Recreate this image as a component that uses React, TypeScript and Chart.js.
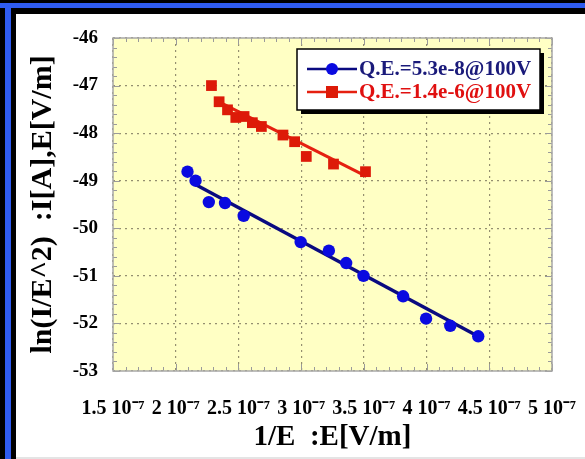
import { useEffect, useRef } from "react";
import { Chart, registerables } from "chart.js";

Chart.register(...registerables);

// x values are in units of 1e-7 (1/E), y values are ln(I/E^2)
const blueX = [2.094, 2.158, 2.264, 2.393, 2.542, 2.996, 3.221, 3.359, 3.497, 3.813, 3.996, 4.189, 4.412];
const blueY = [-48.81, -49.0, -49.45, -49.47, -49.74, -50.29, -50.47, -50.73, -51.0, -51.43, -51.9, -52.05, -52.27];
const redX = [2.285, 2.346, 2.413, 2.479, 2.545, 2.611, 2.683, 2.855, 2.948, 3.041, 3.258, 3.513];
const redY = [-47.0, -47.34, -47.51, -47.67, -47.65, -47.78, -47.86, -48.04, -48.18, -48.49, -48.65, -48.81];
const blueFitX = [2.15, 4.41];
const blueFitY = [-49.07, -52.27];
const redFitX = [2.33, 3.52];
const redFitY = [-47.32, -48.91];
const xTickValues = [1.5, 2, 2.5, 3, 3.5, 4, 4.5, 5];
const yTickValues = [-46, -47, -48, -49, -50, -51, -52, -53];
const legendLabels = ["Q.E.=5.3e-8@100V", "Q.E.=1.4e-6@100V"];
const xTitle = "1/E  :E[V/m]";
const yTitle = "ln(I/E^2)  :I[A],E[V/m]";

const BLUE_PT = "#0a0ae0";
const BLUE_LINE = "#0a0a80";
const RED_PT = "#dd1a08";
const RED_LINE = "#e52010";
const SERIF = "'Liberation Serif', 'Times New Roman', serif";

const toPts = (xs: number[], ys: number[]) => xs.map((x, i) => ({ x, y: ys[i] }));

const framePlugin = {
  id: "framePlugin",
  beforeDraw(chart: any) {
    const { ctx, width, height, chartArea } = chart;
    ctx.save();
    ctx.fillStyle = "#000";
    ctx.fillRect(0, 0, width, height);
    ctx.fillStyle = "#2f5cf0";
    ctx.fillRect(0, 3, width, 5);
    ctx.fillRect(5, 3, 6, height);
    ctx.fillStyle = "#ffffff";
    ctx.fillRect(16, 14, width - 16, height - 16);
    ctx.fillStyle = "#e4e4e4";
    ctx.fillRect(16, height - 2, width - 16, 2);
    ctx.fillStyle = "#ffffc4";
    ctx.fillRect(chartArea.left, chartArea.top, chartArea.right - chartArea.left, chartArea.bottom - chartArea.top);
    ctx.restore();
  },
  beforeDatasetsDraw(chart: any) {
    const { ctx, chartArea, scales } = chart;
    const xs = scales.x;
    const ys = scales.y;
    const { left, right, top, bottom } = chartArea;
    ctx.save();
    ctx.strokeStyle = "#9a9a9a";
    ctx.lineWidth = 1;
    ctx.beginPath();
    for (let i = 0; i <= 35; i++) {
      const v = 1.5 + i * 0.1;
      const px = Math.round(xs.getPixelForValue(v)) + 0.5;
      const len = i % 5 === 0 ? 7 : 4;
      ctx.moveTo(px, bottom);
      ctx.lineTo(px, bottom - len);
      ctx.moveTo(px, top);
      ctx.lineTo(px, top + len);
    }
    for (let i = 0; i <= 35; i++) {
      const v = -53 + i * 0.2;
      const py = Math.round(ys.getPixelForValue(v)) + 0.5;
      const len = i % 5 === 0 ? 7 : 4;
      ctx.moveTo(left, py);
      ctx.lineTo(left + len, py);
      ctx.moveTo(right, py);
      ctx.lineTo(right - len, py);
    }
    ctx.stroke();
    ctx.strokeStyle = "#a8a8a8";
    ctx.lineWidth = 1.5;
    ctx.strokeRect(left, top, right - left, bottom - top);
    ctx.restore();
  },
  afterDraw(chart: any) {
    const { ctx, chartArea } = chart;
    const bx = chartArea.left + 184;
    const by = chartArea.top + 11;
    const bw = 243;
    const bh = 61;
    ctx.save();
    ctx.fillStyle = "#000";
    ctx.fillRect(bx + 4, by + 4, bw, bh);
    ctx.fillStyle = "#fff";
    ctx.fillRect(bx, by, bw, bh);
    ctx.strokeStyle = "#000";
    ctx.lineWidth = 1.5;
    ctx.strokeRect(bx, by, bw, bh);
    const rows = [
      { y: by + 20, line: BLUE_LINE, pt: BLUE_PT, text: "#1a1a7a", shape: "circle" },
      { y: by + 43, line: RED_LINE, pt: RED_PT, text: "#e01010", shape: "rect" },
    ];
    ctx.font = `bold 21px ${SERIF}`;
    ctx.textBaseline = "middle";
    ctx.textAlign = "left";
    rows.forEach((r, i) => {
      ctx.strokeStyle = r.line;
      ctx.lineWidth = 2.5;
      ctx.beginPath();
      ctx.moveTo(bx + 10, r.y);
      ctx.lineTo(bx + 60, r.y);
      ctx.stroke();
      ctx.fillStyle = r.pt;
      if (r.shape === "circle") {
        ctx.beginPath();
        ctx.arc(bx + 35, r.y, 6, 0, Math.PI * 2);
        ctx.fill();
      } else {
        ctx.fillRect(bx + 29, r.y - 6, 12, 12);
      }
      ctx.fillStyle = r.text;
      ctx.fillText(legendLabels[i], bx + 62, r.y + 1);
    });
    ctx.restore();
  },
};

export default function App() {
  const ref = useRef<HTMLCanvasElement | null>(null);
  useEffect(() => {
    if (!ref.current) return;
    const chart = new Chart(ref.current, {
      type: "scatter",
      data: {
        datasets: [
          {
            label: legendLabels[0] + " fit",
            data: toPts(blueFitX, blueFitY),
            showLine: true,
            borderColor: BLUE_LINE,
            borderWidth: 3.5,
            pointRadius: 0,
            order: 3,
          },
          {
            label: legendLabels[1] + " fit",
            data: toPts(redFitX, redFitY),
            showLine: true,
            borderColor: RED_LINE,
            borderWidth: 3,
            pointRadius: 0,
            order: 4,
          },
          {
            label: legendLabels[0],
            data: toPts(blueX, blueY),
            showLine: false,
            pointStyle: "circle",
            pointRadius: 6.2,
            backgroundColor: BLUE_PT,
            borderColor: BLUE_PT,
            borderWidth: 0,
            order: 1,
          },
          {
            label: legendLabels[1],
            data: toPts(redX, redY),
            showLine: false,
            pointStyle: "rect",
            pointRadius: 7.6,
            backgroundColor: RED_PT,
            borderColor: RED_PT,
            borderWidth: 0,
            order: 2,
          },
        ],
      },
      options: {
        responsive: false,
        animation: false,
        layout: { padding: { left: 16, top: 38, right: 33, bottom: 0 } },
        plugins: { legend: { display: false }, tooltip: { enabled: false } },
        scales: {
          x: {
            type: "linear",
            min: 1.5,
            max: 5,
            afterBuildTicks: (scale: any) => {
              scale.ticks = xTickValues.map((v) => ({ value: v }));
            },
            afterFit: (scale: any) => {
              scale.height = 88;
              scale.paddingLeft = 0;
              scale.paddingRight = 0;
            },
            ticks: {
              color: "#000",
              padding: 26,
              maxRotation: 0,
              autoSkip: false,
              font: { family: SERIF, size: 20, weight: "bold" },
              callback: (v: any) => `${v} 10\u207B\u2077`,
            },
            grid: { color: "#948f70", lineWidth: 1.2, drawTicks: false },
            border: { display: false, dash: [2, 4] },
            title: {
              display: true,
              text: xTitle,
              color: "#000",
              font: { family: SERIF, size: 29, weight: "bold" },
              padding: { top: 0, bottom: 4 },
            },
          },
          y: {
            type: "linear",
            min: -53,
            max: -46,
            afterBuildTicks: (scale: any) => {
              scale.ticks = yTickValues.map((v) => ({ value: v }));
            },
            afterFit: (scale: any) => {
              scale.width = 97;
              scale.paddingTop = 0;
              scale.paddingBottom = 0;
            },
            ticks: {
              color: "#000",
              padding: 15,
              autoSkip: false,
              font: { family: SERIF, size: 19, weight: "bold" },
            },
            grid: { color: "#948f70", lineWidth: 1.2, drawTicks: false },
            border: { display: false, dash: [2, 4] },
            title: {
              display: true,
              text: yTitle,
              color: "#000",
              font: { family: SERIF, size: 30, weight: "bold" },
              padding: { top: 9, bottom: 0 },
            },
          },
        },
      },
      plugins: [framePlugin],
    });
    return () => chart.destroy();
  }, []);
  return (
    <canvas
      ref={ref}
      width={585}
      height={459}
      style={{ position: "absolute", left: 0, top: 0, display: "block" }}
    />
  );
}
